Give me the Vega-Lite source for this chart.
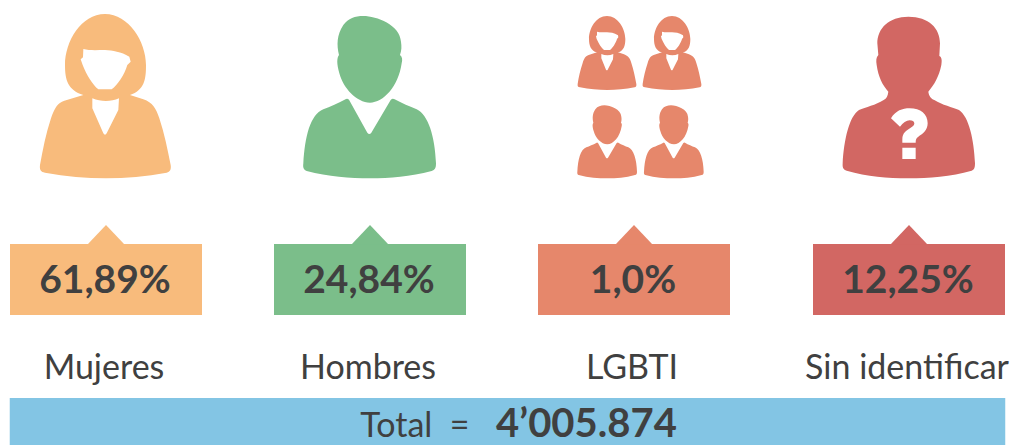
{
"$schema":"https://vega.github.io/schema/vega-lite/v6.json",
"width":1019,"height":445,"padding":0,
"autosize":{"type":"fit","contains":"padding"},
"background":"white",
"view":{"stroke":null},
"datasets":{
"categorias":[
{"orden":1,"categoria":"Mujeres","etiqueta":"61,89%"},
{"orden":2,"categoria":"Hombres","etiqueta":"24,84%"},
{"orden":3,"categoria":"LGBTI","etiqueta":"1,0%"},
{"orden":4,"categoria":"Sin identificar","etiqueta":"12,25%"}
],
"totales":[{"desde":0.5,"hasta":4.5,"pos_rotulo":2.17,"pos_valor":2.82,"rotulo":"Total \u00a0=","valor":"4’005.874"}]
},
"layer":[
{"data":{"name":"totales"},
"mark":{"type":"rect","color":"#83C5E4","xOffset":-4,"x2Offset":4},
"encoding":{
"x":{"field":"desde","type":"quantitative","axis":null,"scale":{"domain":[0.5,1,2,3,4,4.5],"range":[10,106,370,634,909,1005],"zero":false,"nice":false}},
"x2":{"field":"hasta"},
"y":{"datum":6,"type":"quantitative","axis":null,"scale":{"domain":[0,1,2,3,4,5,6,7,8],"range":[0,100,244,281,315,369,398,425,445],"zero":false,"nice":false}},
"y2":{"datum":8}
}},
{"data":{"name":"totales"},
"mark":{"type":"text","font":"Lato","fontSize":34,"baseline":"middle","align":"center","color":"#404040","dy":2},
"encoding":{
"text":{"field":"rotulo","type":"nominal"},
"x":{"field":"pos_rotulo","type":"quantitative","axis":null,"scale":{"domain":[0.5,1,2,3,4,4.5],"range":[10,106,370,634,909,1005],"zero":false,"nice":false}},
"y":{"datum":7,"type":"quantitative","axis":null,"scale":{"domain":[0,1,2,3,4,5,6,7,8],"range":[0,100,244,281,315,369,398,425,445],"zero":false,"nice":false}}
}},
{"data":{"name":"totales"},
"mark":{"type":"text","font":"Lato","fontWeight":"bold","fontSize":40,"baseline":"middle","align":"center","color":"#404040"},
"encoding":{
"text":{"field":"valor","type":"nominal"},
"x":{"field":"pos_valor","type":"quantitative","axis":null,"scale":{"domain":[0.5,1,2,3,4,4.5],"range":[10,106,370,634,909,1005],"zero":false,"nice":false}},
"y":{"datum":7,"type":"quantitative","axis":null,"scale":{"domain":[0,1,2,3,4,5,6,7,8],"range":[0,100,244,281,315,369,398,425,445],"zero":false,"nice":false}}
}},
{"data":{"name":"categorias"},
"mark":{"type":"point","filled":true,"opacity":1,"size":0.4444,"strokeWidth":0},
"encoding":{
"x":{"field":"orden","type":"quantitative","axis":null,"scale":{"domain":[0.5,1,2,3,4,4.5],"range":[10,106,370,634,909,1005],"zero":false,"nice":false}},
"color":{"field":"categoria","type":"nominal","legend":null,"scale":{"domain":["Mujeres","Hombres","LGBTI","Sin identificar"],"range":["#F8BB7C","#7BBE8A","#E6876B","#D26763"]}},
"y":{"datum":1,"type":"quantitative","axis":null,"scale":{"domain":[0,1,2,3,4,5,6,7,8],"range":[0,100,244,281,315,369,398,425,445],"zero":false,"nice":false}},
"shape":{"field":"categoria","type":"nominal","legend":null,"scale":{"domain":["Mujeres","Hombres","LGBTI","Sin identificar"],"range":[
"M-3,-258 C-75,-258 -123,-175 -123,-105 C-123,-60 -115,-30 -68,-15 L-125,2 C-145,8 -155,25 -165,55 C-180,100 -190,150 -198,195 C-200,210 -195,216 -183,218 C-120,230 -60,235 0,235 C60,235 120,230 182,218 C192,216 196,208 194,195 C185,150 175,100 160,55 C150,25 140,8 112,-2 L72,-15 C115,-30 120,-60 120,-105 C120,-175 68,-258 -3,-258 Z",
"M-72,-3 Q-68,-6 -63,-1 L-8,98 Q-2,106 4,98 L62,0 Q68,-7 74,-2 C95,10 120,20 140,28 C175,45 195,110 198,190 C198,205 195,210 185,213 C120,230 60,235 0,235 C-60,235 -125,230 -190,213 C-198,210 -202,205 -200,190 C-195,110 -180,45 -140,28 C-120,20 -95,10 -72,-3 Z M-20,-252 C20,-252 90,-225 93,-175 C95,-160 95,-150 90,-135 C97,-130 98,-120 95,-110 C85,-40 40,8 0,8 C-40,8 -80,-35 -92,-80 C-100,-110 -100,-125 -93,-135 C-100,-165 -100,-195 -80,-225 C-65,-245 -45,-252 -20,-252 Z",
"M-81,-252 c-33,0 -54,37 -54,69 c0,18 5,36 24,40 l-25,8 c-9,3 -14,10 -18,24 c-7,20 -12,43 -15,63 c-1,7 1,9 7,10 c28,6 55,8 82,8 c27,0 54,-2 82,-8 c4,-1 6,-4 5,-10 c-4,-20 -8,-43 -15,-63 c-4,-14 -9,-21 -22,-26 l-18,-6 c18,-4 22,-22 22,-40 c0,-32 -23,-69 -55,-69 z M114,-252 c-33,0 -54,37 -54,69 c0,18 5,36 24,40 l-25,8 c-9,3 -14,10 -18,24 c-7,20 -12,43 -15,63 c-1,7 1,9 7,10 c28,6 55,8 82,8 c27,0 54,-2 82,-8 c4,-1 6,-4 5,-10 c-4,-20 -8,-43 -15,-63 c-4,-14 -9,-21 -22,-26 l-18,-6 c18,-4 22,-22 22,-40 c0,-32 -23,-69 -55,-69 z M-112,128 q1,-2 4,1 l24,44 q3,4 6,0 l26,-44 q3,-3 5,-1 c10,6 21,10 30,14 c16,7 25,37 26,73 c0,6 -1,9 -6,10 c-29,8 -56,10 -83,10 c-27,0 -56,-2 -86,-10 c-3,-1 -5,-4 -4,-10 c2,-36 9,-66 27,-73 c9,-4 20,-8 31,-14 z M88,128 q1,-2 4,1 l24,44 q3,4 6,0 l26,-44 q3,-3 5,-1 c10,6 21,10 30,14 c16,7 25,37 26,73 c0,6 -1,9 -6,10 c-29,8 -56,10 -83,10 c-27,0 -56,-2 -86,-10 c-3,-1 -5,-4 -4,-10 c2,-36 9,-66 27,-73 c9,-4 20,-8 31,-14 z M-89,16 c18,0 50,12 51,34 c1,7 1,11 -1,18 c3,2 3,7 2,11 c-5,32 -25,54 -43,54 c-18,0 -36,-20 -41,-40 c-4,-14 -4,-20 -1,-25 c-3,-13 -3,-27 6,-40 c7,-9 16,-12 27,-12 z M111,16 c18,0 50,12 51,34 c1,7 1,11 -1,18 c3,2 3,7 2,11 c-5,32 -25,54 -43,54 c-18,0 -36,-20 -41,-40 c-4,-14 -4,-20 -1,-25 c-3,-13 -3,-27 6,-40 c7,-9 16,-12 27,-12 z",
"M-2,-250 C60,-250 93,-215 93,-170 L91,-132 C99,-128 99,-118 97,-105 C90,-70 75,-45 58,-25 C60,-12 65,-5 76,0 C100,15 130,22 150,30 C180,50 195,120 198,190 C198,205 195,210 188,212 C125,230 60,235 -2,235 C-65,235 -125,230 -187,212 C-197,209 -200,204 -199,190 C-195,120 -180,50 -150,30 C-130,22 -100,15 -76,0 C-67,-5 -64,-12 -62,-25 C-80,-45 -92,-70 -97,-105 C-99,-118 -99,-128 -92,-135 L-95,-170 C-95,-215 -60,-250 -2,-250 Z"
]}}
}},
{"data":{"name":"categorias"},
"transform":[{"filter":"datum.orden != 2"}],
"mark":{"type":"point","filled":true,"opacity":1,"size":0.4444,"strokeWidth":0,"color":"white"},
"encoding":{
"x":{"field":"orden","type":"quantitative","axis":null,"scale":{"domain":[0.5,1,2,3,4,4.5],"range":[10,106,370,634,909,1005],"zero":false,"nice":false}},
"y":{"datum":1,"type":"quantitative","axis":null,"scale":{"domain":[0,1,2,3,4,5,6,7,8],"range":[0,100,244,281,315,369,398,425,445],"zero":false,"nice":false}},
"shape":{"field":"categoria","type":"nominal","legend":null,"scale":{"domain":["Mujeres","LGBTI","Sin identificar"],"range":[
"M-68,-153 L-69,-128 L-76,-122 L-70,-105 C-58,-75 -40,-45 -23,-32 L17,-32 C35,-45 55,-75 64,-105 L74,-115 L70,-130 C45,-145 20,-148 -3,-150 C-25,-150 -50,-148 -68,-153 Z M-41,-5 C-15,6 15,6 39,-5 L37,30 L2,100 Q-3,108 -8,100 L-41,25 Z",
"M-111,-205 l0,11 l-3,3 l2,8 c6,13 14,27 22,33 l18,0 c8,-6 17,-20 21,-33 l4,-5 l-1,-6 c-12,-7 -23,-9 -33,-9 c-10,0 -21,0 -30,-2 z M84,-205 l0,11 l-3,3 l2,8 c6,13 14,27 22,33 l18,0 c8,-6 17,-20 21,-33 l4,-5 l-1,-6 c-12,-7 -23,-9 -33,-9 c-10,0 -21,0 -30,-2 z M-98,-138 c11,5 25,5 36,0 l-1,16 l-16,31 q-2,4 -5,0 l-14,-34 z M97,-138 c11,5 25,5 36,0 l-1,16 l-16,31 q-2,4 -5,0 l-14,-34 z",
"M-54,55 C-40,32 -20,25 2,25 C35,25 56,42 56,70 C56,92 40,102 28,110 C22,114 20,118 20,128 L-20,128 L-20,118 C-20,98 -8,92 4,84 C12,79 16,76 16,70 C16,64 10,61 2,61 C-8,61 -18,68 -27,80 Z M-20,143 L20,143 L20,177 L-20,177 Z"
]}}
}},
{"data":{"name":"categorias"},
"mark":{"type":"bar","width":192},
"encoding":{
"x":{"field":"orden","type":"quantitative","axis":null,"scale":{"domain":[0.5,1,2,3,4,4.5],"range":[10,106,370,634,909,1005],"zero":false,"nice":false}},
"color":{"field":"categoria","type":"nominal","legend":null,"scale":{"domain":["Mujeres","Hombres","LGBTI","Sin identificar"],"range":["#F8BB7C","#7BBE8A","#E6876B","#D26763"]}},
"y":{"datum":2,"type":"quantitative","axis":null,"scale":{"domain":[0,1,2,3,4,5,6,7,8],"range":[0,100,244,281,315,369,398,425,445],"zero":false,"nice":false}},
"y2":{"datum":4}
}},
{"data":{"name":"categorias"},
"mark":{"type":"point","filled":true,"opacity":1,"size":4,"strokeWidth":0,"shape":"M-18.5,0.5 L0,-19 L18.5,0.5 Z"},
"encoding":{
"x":{"field":"orden","type":"quantitative","axis":null,"scale":{"domain":[0.5,1,2,3,4,4.5],"range":[10,106,370,634,909,1005],"zero":false,"nice":false}},
"color":{"field":"categoria","type":"nominal","legend":null,"scale":{"domain":["Mujeres","Hombres","LGBTI","Sin identificar"],"range":["#F8BB7C","#7BBE8A","#E6876B","#D26763"]}},
"y":{"datum":2,"type":"quantitative","axis":null,"scale":{"domain":[0,1,2,3,4,5,6,7,8],"range":[0,100,244,281,315,369,398,425,445],"zero":false,"nice":false}}
}},
{"data":{"name":"categorias"},
"mark":{"type":"text","font":"Lato","fontWeight":"bold","fontSize":39,"baseline":"middle","align":"center","color":"#404040","dx":-1},
"encoding":{
"text":{"field":"etiqueta","type":"nominal"},
"x":{"field":"orden","type":"quantitative","axis":null,"scale":{"domain":[0.5,1,2,3,4,4.5],"range":[10,106,370,634,909,1005],"zero":false,"nice":false}},
"y":{"datum":3,"type":"quantitative","axis":null,"scale":{"domain":[0,1,2,3,4,5,6,7,8],"range":[0,100,244,281,315,369,398,425,445],"zero":false,"nice":false}}
}},
{"data":{"name":"categorias"},
"mark":{"type":"text","font":"Lato","fontSize":34,"baseline":"middle","align":"center","color":"#404040","dx":-2},
"encoding":{
"text":{"field":"categoria","type":"nominal"},
"x":{"field":"orden","type":"quantitative","axis":null,"scale":{"domain":[0.5,1,2,3,4,4.5],"range":[10,106,370,634,909,1005],"zero":false,"nice":false}},
"y":{"datum":5,"type":"quantitative","axis":null,"scale":{"domain":[0,1,2,3,4,5,6,7,8],"range":[0,100,244,281,315,369,398,425,445],"zero":false,"nice":false}}
}}
],
"resolve":{"scale":{"shape":"independent"}}
}
